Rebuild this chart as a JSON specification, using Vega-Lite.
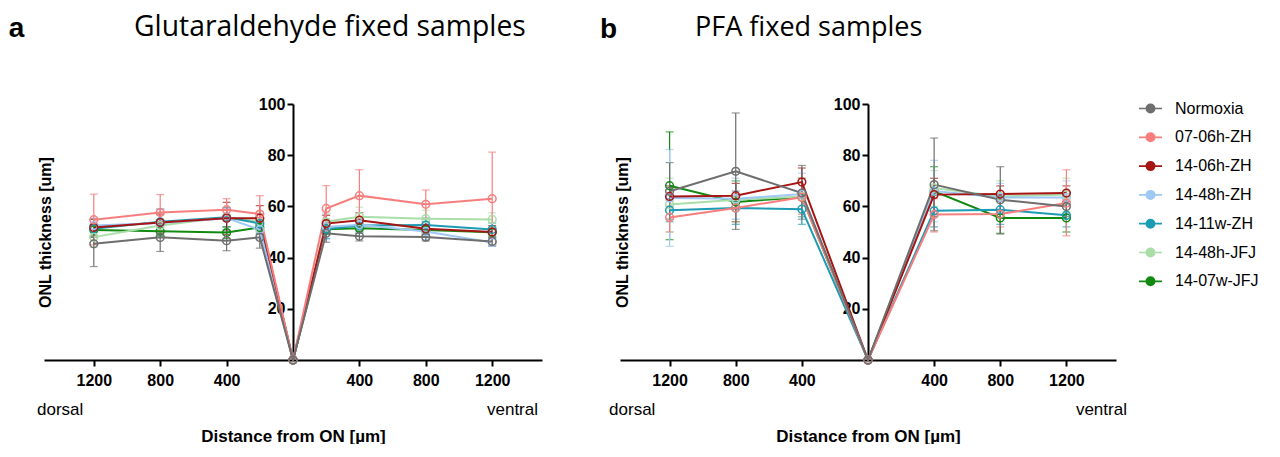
{
  "$schema": "https://vega.github.io/schema/vega-lite/v6.json",
  "padding": {"left": 8, "top": 12, "right": 0, "bottom": 0},
  "background": "white",
  "config": {
    "view": {"stroke": null},
    "font": "Liberation Sans",
    "axis": {"grid": false, "domainColor": "#000", "tickColor": "#000", "domainWidth": 2, "tickWidth": 2, "tickSize": 6, "labelFontWeight": "bold", "labelFontSize": 16, "labelColor": "#000", "titleFontWeight": "bold", "titleColor": "#000", "labelFont": "Liberation Sans", "titleFont": "Liberation Sans"},
    "legend": {"title": null, "labelFontSize": 16, "labelFont": "Liberation Sans", "labelColor": "#000", "symbolType": "M-1,0L-0.36,0M0.36,0L1,0M0.36,0A0.36,0.36,0,1,1,-0.36,0A0.36,0.36,0,1,1,0.36,0", "symbolSize": 529, "symbolStrokeWidth": 1.7, "symbolFillColor": "#ffffff", "symbolOpacity": 1, "rowPadding": 7.8, "labelOffset": 12, "orient": "none", "legendX": 1094, "legendY": -8}
  },
  "resolve": {"scale": {"color": "shared"}},
  "datasets": {
    "ga": [
      {"s": "14-07w-JFJ", "x": -1200, "y": 50.8, "lo": 48.5, "hi": 53},
      {"s": "14-07w-JFJ", "x": -800, "y": 50.3, "lo": 48.5, "hi": 52},
      {"s": "14-07w-JFJ", "x": -400, "y": 49.8, "lo": 47.5, "hi": 52},
      {"s": "14-07w-JFJ", "x": -200, "y": 51.8, "lo": 49.5, "hi": 54},
      {"s": "14-07w-JFJ", "x": 0, "y": 0, "lo": null, "hi": null},
      {"s": "14-07w-JFJ", "x": 200, "y": 51.1, "lo": 49, "hi": 53},
      {"s": "14-07w-JFJ", "x": 400, "y": 51.5, "lo": 49.5, "hi": 53.5},
      {"s": "14-07w-JFJ", "x": 800, "y": 50.8, "lo": 49, "hi": 53},
      {"s": "14-07w-JFJ", "x": 1200, "y": 49.9, "lo": 48, "hi": 51.5},
      {"s": "14-48h-JFJ", "x": -1200, "y": 48.0, "lo": 44, "hi": 52},
      {"s": "14-48h-JFJ", "x": -800, "y": 52.5, "lo": 48, "hi": 56.5},
      {"s": "14-48h-JFJ", "x": -400, "y": 55.8, "lo": 52, "hi": 59.5},
      {"s": "14-48h-JFJ", "x": -200, "y": 54.0, "lo": 50, "hi": 58},
      {"s": "14-48h-JFJ", "x": 0, "y": 0, "lo": null, "hi": null},
      {"s": "14-48h-JFJ", "x": 200, "y": 54.0, "lo": 50.5, "hi": 57.5},
      {"s": "14-48h-JFJ", "x": 400, "y": 56.0, "lo": 52.5, "hi": 59.7},
      {"s": "14-48h-JFJ", "x": 800, "y": 55.2, "lo": 52, "hi": 58.5},
      {"s": "14-48h-JFJ", "x": 1200, "y": 54.9, "lo": 52, "hi": 57.5},
      {"s": "14-11w-ZH", "x": -1200, "y": 51.3, "lo": 48, "hi": 55},
      {"s": "14-11w-ZH", "x": -800, "y": 54.0, "lo": 49, "hi": 59},
      {"s": "14-11w-ZH", "x": -400, "y": 55.8, "lo": 52, "hi": 59.5},
      {"s": "14-11w-ZH", "x": -200, "y": 53.3, "lo": 49, "hi": 57},
      {"s": "14-11w-ZH", "x": 0, "y": 0, "lo": null, "hi": null},
      {"s": "14-11w-ZH", "x": 200, "y": 51.2, "lo": 47.5, "hi": 55},
      {"s": "14-11w-ZH", "x": 400, "y": 52.5, "lo": 50, "hi": 55},
      {"s": "14-11w-ZH", "x": 800, "y": 52.7, "lo": 50, "hi": 55.5},
      {"s": "14-11w-ZH", "x": 1200, "y": 51.0, "lo": 48.5, "hi": 53.5},
      {"s": "14-48h-ZH", "x": -1200, "y": 52.5, "lo": 49, "hi": 55.5},
      {"s": "14-48h-ZH", "x": -800, "y": 53.5, "lo": 48, "hi": 59},
      {"s": "14-48h-ZH", "x": -400, "y": 55.4, "lo": 51, "hi": 59},
      {"s": "14-48h-ZH", "x": -200, "y": 50.9, "lo": 47, "hi": 55},
      {"s": "14-48h-ZH", "x": 0, "y": 0, "lo": null, "hi": null},
      {"s": "14-48h-ZH", "x": 200, "y": 52.0, "lo": 47, "hi": 57},
      {"s": "14-48h-ZH", "x": 400, "y": 52.8, "lo": 50, "hi": 55.5},
      {"s": "14-48h-ZH", "x": 800, "y": 50.2, "lo": 47, "hi": 53.5},
      {"s": "14-48h-ZH", "x": 1200, "y": 45.9, "lo": 44.5, "hi": 47.5},
      {"s": "14-06h-ZH", "x": -1200, "y": 51.8, "lo": 48, "hi": 55},
      {"s": "14-06h-ZH", "x": -800, "y": 53.7, "lo": 50, "hi": 57},
      {"s": "14-06h-ZH", "x": -400, "y": 55.4, "lo": 49, "hi": 61.6},
      {"s": "14-06h-ZH", "x": -200, "y": 55.4, "lo": 51, "hi": 60.3},
      {"s": "14-06h-ZH", "x": 0, "y": 0, "lo": null, "hi": null},
      {"s": "14-06h-ZH", "x": 200, "y": 53.3, "lo": 50, "hi": 56.5},
      {"s": "14-06h-ZH", "x": 400, "y": 54.6, "lo": 52, "hi": 57.5},
      {"s": "14-06h-ZH", "x": 800, "y": 51.3, "lo": 49, "hi": 54},
      {"s": "14-06h-ZH", "x": 1200, "y": 50.0, "lo": 47.5, "hi": 52.5},
      {"s": "07-06h-ZH", "x": -1200, "y": 54.8, "lo": 45, "hi": 64.8},
      {"s": "07-06h-ZH", "x": -800, "y": 57.6, "lo": 50.5, "hi": 64.6},
      {"s": "07-06h-ZH", "x": -400, "y": 58.7, "lo": 54.5, "hi": 63},
      {"s": "07-06h-ZH", "x": -200, "y": 57.0, "lo": 50, "hi": 64.2},
      {"s": "07-06h-ZH", "x": 0, "y": 0, "lo": null, "hi": null},
      {"s": "07-06h-ZH", "x": 200, "y": 59.2, "lo": 50, "hi": 68.1},
      {"s": "07-06h-ZH", "x": 400, "y": 64.2, "lo": 55, "hi": 74.3},
      {"s": "07-06h-ZH", "x": 800, "y": 60.8, "lo": 55, "hi": 66.4},
      {"s": "07-06h-ZH", "x": 1200, "y": 63.0, "lo": 45, "hi": 81.2},
      {"s": "Normoxia", "x": -1200, "y": 45.4, "lo": 36.5, "hi": 52.6},
      {"s": "Normoxia", "x": -800, "y": 47.9, "lo": 42.4, "hi": 53.2},
      {"s": "Normoxia", "x": -400, "y": 46.6, "lo": 42.7, "hi": 50.5},
      {"s": "Normoxia", "x": -200, "y": 47.9, "lo": 43.7, "hi": 51.5},
      {"s": "Normoxia", "x": 0, "y": 0, "lo": null, "hi": null},
      {"s": "Normoxia", "x": 200, "y": 49.5, "lo": 46, "hi": 52.5},
      {"s": "Normoxia", "x": 400, "y": 48.3, "lo": 46.5, "hi": 50.5},
      {"s": "Normoxia", "x": 800, "y": 48.0, "lo": 46.5, "hi": 50},
      {"s": "Normoxia", "x": 1200, "y": 46.3, "lo": 44.5, "hi": 48}
    ],
    "pfa": [
      {"s": "14-07w-JFJ", "x": -1200, "y": 68.1, "lo": 47, "hi": 89.1},
      {"s": "14-07w-JFJ", "x": -800, "y": 61.7, "lo": 54, "hi": 70},
      {"s": "14-07w-JFJ", "x": -400, "y": 63.6, "lo": 56, "hi": 71},
      {"s": "14-07w-JFJ", "x": 0, "y": 0, "lo": null, "hi": null},
      {"s": "14-07w-JFJ", "x": 400, "y": 65.9, "lo": 56, "hi": 75.5},
      {"s": "14-07w-JFJ", "x": 800, "y": 55.5, "lo": 49.5, "hi": 62},
      {"s": "14-07w-JFJ", "x": 1200, "y": 55.5, "lo": 50, "hi": 61},
      {"s": "14-48h-JFJ", "x": -1200, "y": 60.7, "lo": 50, "hi": 71},
      {"s": "14-48h-JFJ", "x": -800, "y": 62.6, "lo": 55, "hi": 70},
      {"s": "14-48h-JFJ", "x": -400, "y": 63.9, "lo": 57, "hi": 71},
      {"s": "14-48h-JFJ", "x": 0, "y": 0, "lo": null, "hi": null},
      {"s": "14-48h-JFJ", "x": 400, "y": 67.2, "lo": 60, "hi": 74},
      {"s": "14-48h-JFJ", "x": 800, "y": 63.9, "lo": 58, "hi": 70},
      {"s": "14-48h-JFJ", "x": 1200, "y": 64.6, "lo": 58, "hi": 71},
      {"s": "14-11w-ZH", "x": -1200, "y": 58.5, "lo": 54, "hi": 63},
      {"s": "14-11w-ZH", "x": -800, "y": 59.4, "lo": 53, "hi": 66},
      {"s": "14-11w-ZH", "x": -400, "y": 58.9, "lo": 53, "hi": 64.5},
      {"s": "14-11w-ZH", "x": 0, "y": 0, "lo": null, "hi": null},
      {"s": "14-11w-ZH", "x": 400, "y": 58.3, "lo": 52, "hi": 65},
      {"s": "14-11w-ZH", "x": 800, "y": 58.7, "lo": 53, "hi": 65},
      {"s": "14-11w-ZH", "x": 1200, "y": 56.5, "lo": 52, "hi": 61},
      {"s": "14-48h-ZH", "x": -1200, "y": 63.3, "lo": 44.4, "hi": 82.2},
      {"s": "14-48h-ZH", "x": -800, "y": 63.0, "lo": 55, "hi": 71},
      {"s": "14-48h-ZH", "x": -400, "y": 64.8, "lo": 56, "hi": 73},
      {"s": "14-48h-ZH", "x": 0, "y": 0, "lo": null, "hi": null},
      {"s": "14-48h-ZH", "x": 400, "y": 66.0, "lo": 54, "hi": 78},
      {"s": "14-48h-ZH", "x": 800, "y": 63.5, "lo": 58, "hi": 69},
      {"s": "14-48h-ZH", "x": 1200, "y": 63.5, "lo": 57, "hi": 70},
      {"s": "14-06h-ZH", "x": -1200, "y": 63.9, "lo": 60, "hi": 68},
      {"s": "14-06h-ZH", "x": -800, "y": 64.2, "lo": 59, "hi": 69},
      {"s": "14-06h-ZH", "x": -400, "y": 69.5, "lo": 64, "hi": 75},
      {"s": "14-06h-ZH", "x": 0, "y": 0, "lo": null, "hi": null},
      {"s": "14-06h-ZH", "x": 400, "y": 64.6, "lo": 58, "hi": 71},
      {"s": "14-06h-ZH", "x": 800, "y": 64.8, "lo": 62, "hi": 68},
      {"s": "14-06h-ZH", "x": 1200, "y": 65.2, "lo": 62, "hi": 68},
      {"s": "07-06h-ZH", "x": -1200, "y": 55.7, "lo": 50, "hi": 62},
      {"s": "07-06h-ZH", "x": -800, "y": 59.4, "lo": 54, "hi": 65},
      {"s": "07-06h-ZH", "x": -400, "y": 63.6, "lo": 57, "hi": 71},
      {"s": "07-06h-ZH", "x": 0, "y": 0, "lo": null, "hi": null},
      {"s": "07-06h-ZH", "x": 400, "y": 56.8, "lo": 50, "hi": 63},
      {"s": "07-06h-ZH", "x": 800, "y": 57.0, "lo": 52, "hi": 62},
      {"s": "07-06h-ZH", "x": 1200, "y": 61.3, "lo": 48.5, "hi": 74.3},
      {"s": "Normoxia", "x": -1200, "y": 65.9, "lo": 55, "hi": 77.1},
      {"s": "Normoxia", "x": -800, "y": 73.7, "lo": 51, "hi": 96.5},
      {"s": "Normoxia", "x": -400, "y": 65.2, "lo": 55, "hi": 76},
      {"s": "Normoxia", "x": 0, "y": 0, "lo": null, "hi": null},
      {"s": "Normoxia", "x": 400, "y": 68.5, "lo": 50.5, "hi": 86.7},
      {"s": "Normoxia", "x": 800, "y": 62.6, "lo": 49.2, "hi": 75.5},
      {"s": "Normoxia", "x": 1200, "y": 60.0, "lo": 56, "hi": 64}
    ],
    "ends": [{"dorsal": "dorsal", "ventral": "ventral"}]
  },
  "spacing": 57,
  "hconcat": [
    {
      "title": {"text": "a", "orient": "left", "angle": 0, "anchor": "end", "fontSize": 28, "fontWeight": "bold", "font": "Liberation Sans", "baseline": "top", "offset": -3, "dy": 2},
      "vconcat": [
        {
          "width": 498, "height": 256,
          "title": {"text": "Glutaraldehyde fixed samples", "anchor": "start", "dx": 97, "fontSize": 28.3, "font": "Open Sans", "fontWeight": "normal", "offset": 54, "color": "#000"},
          "data": {"name": "ga"},
          "layer": [
            {
              "mark": {"type": "errorbar", "ticks": {"size": 8}, "thickness": 1.2},
              "encoding": {
                "x": {"field": "x", "type": "quantitative", "scale": {"domain": [-1500, 1500], "nice": false}, "axis": {"values": [-1200, -800, -400, 400, 800, 1200], "labelExpr": "abs(datum.value)", "title": "Distance from ON [µm]", "titleFontSize": 17, "labelPadding": 6, "titlePadding": 40}},
                "y": {"field": "lo", "type": "quantitative", "scale": {"domain": [0, 100], "nice": false}, "axis": {"values": [20, 40, 60, 80, 100], "offset": -249, "title": "ONL thickness [um]", "titleFontSize": 16, "titleX": -248, "titleBaseline": "middle", "titleAngle": -90, "labelPadding": 2}},
                "y2": {"field": "hi"},
                "color": {"field": "s", "type": "nominal", "scale": {"domain": ["Normoxia", "07-06h-ZH", "14-06h-ZH", "14-48h-ZH", "14-11w-ZH", "14-48h-JFJ", "14-07w-JFJ"], "range": ["#6e6e6e", "#f87e7e", "#a61414", "#9ec8f5", "#1c9bb3", "#a9dea9", "#128a12"]}, "legend": {"encode": {"symbols": {"update": {"fill": {"value": "#ffffff"}, "opacity": {"value": 1}}}}}}
              }
            },
            {
              "mark": {"type": "line", "strokeWidth": 2},
              "encoding": {
                "x": {"field": "x", "type": "quantitative"},
                "y": {"field": "y", "type": "quantitative"},
                "color": {"field": "s", "type": "nominal"},
                "order": {"field": "x", "type": "quantitative"}
              }
            },
            {
              "mark": {"type": "point", "filled": false, "size": 60, "strokeWidth": 1.5, "opacity": 1},
              "encoding": {
                "x": {"field": "x", "type": "quantitative"},
                "y": {"field": "y", "type": "quantitative"},
                "color": {"field": "s", "type": "nominal"}
              }
            },
            {
              "data": {"name": "ends"},
              "mark": {"type": "text", "align": "left", "baseline": "middle", "fontSize": 17, "color": "#000", "clip": false},
              "encoding": {"x": {"datum": -1542}, "y": {"datum": -19.5}, "text": {"field": "dorsal"}}
            },
            {
              "data": {"name": "ends"},
              "mark": {"type": "text", "align": "right", "baseline": "middle", "fontSize": 17, "color": "#000", "clip": false},
              "encoding": {"x": {"datum": 1476}, "y": {"datum": -19.5}, "text": {"field": "ventral"}}
            }
          ]
        }
      ]
    },
    {
      "title": {"text": "b", "orient": "left", "angle": 0, "anchor": "end", "fontSize": 28, "fontWeight": "bold", "font": "Liberation Sans", "baseline": "top", "offset": -25, "dy": 2},
      "vconcat": [
        {
          "width": 496, "height": 256,
          "title": {"text": "PFA fixed samples", "anchor": "start", "dx": 86, "fontSize": 27, "font": "Open Sans", "fontWeight": "normal", "offset": 54, "color": "#000"},
          "data": {"name": "pfa"},
          "layer": [
            {
              "mark": {"type": "errorbar", "ticks": {"size": 8}, "thickness": 1.2},
              "encoding": {
                "x": {"field": "x", "type": "quantitative", "scale": {"domain": [-1500, 1500], "nice": false}, "axis": {"values": [-1200, -800, -400, 400, 800, 1200], "labelExpr": "abs(datum.value)", "title": "Distance from ON [µm]", "titleFontSize": 17, "labelPadding": 6, "titlePadding": 40}},
                "y": {"field": "lo", "type": "quantitative", "scale": {"domain": [0, 100], "nice": false}, "axis": {"values": [20, 40, 60, 80, 100], "offset": -248, "title": "ONL thickness [um]", "titleFontSize": 16, "titleX": -246, "titleBaseline": "middle", "titleAngle": -90, "labelPadding": 2}},
                "y2": {"field": "hi"},
                "color": {"field": "s", "type": "nominal"}
              }
            },
            {
              "mark": {"type": "line", "strokeWidth": 2},
              "encoding": {
                "x": {"field": "x", "type": "quantitative"},
                "y": {"field": "y", "type": "quantitative"},
                "color": {"field": "s", "type": "nominal"},
                "order": {"field": "x", "type": "quantitative"}
              }
            },
            {
              "mark": {"type": "point", "filled": false, "size": 60, "strokeWidth": 1.5, "opacity": 1},
              "encoding": {
                "x": {"field": "x", "type": "quantitative"},
                "y": {"field": "y", "type": "quantitative"},
                "color": {"field": "s", "type": "nominal"}
              }
            },
            {
              "data": {"name": "ends"},
              "mark": {"type": "text", "align": "left", "baseline": "middle", "fontSize": 17, "color": "#000", "clip": false},
              "encoding": {"x": {"datum": -1566}, "y": {"datum": -19.5}, "text": {"field": "dorsal"}}
            },
            {
              "data": {"name": "ends"},
              "mark": {"type": "text", "align": "right", "baseline": "middle", "fontSize": 17, "color": "#000", "clip": false},
              "encoding": {"x": {"datum": 1566}, "y": {"datum": -19.5}, "text": {"field": "ventral"}}
            }
          ]
        }
      ]
    }
  ]
}
